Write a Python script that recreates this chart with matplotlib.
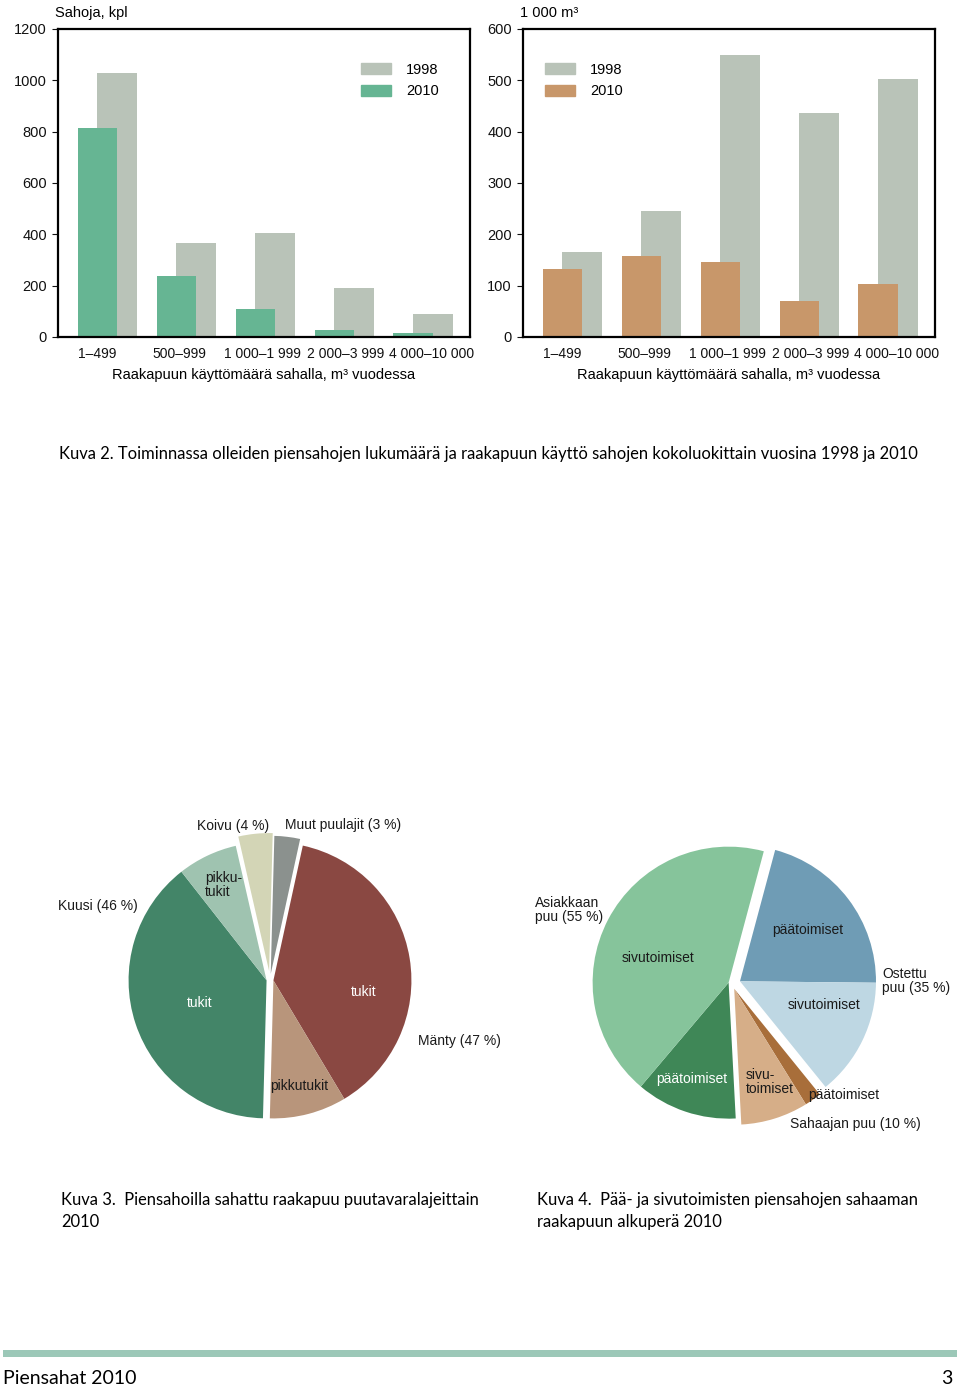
import numpy as np
import matplotlib
matplotlib.use('Agg')
import matplotlib.pyplot as plt
from matplotlib.patches import Patch, Rectangle

# groteski kuvioihin, humanistinen groteski kuvateksteihin
SANS = 'Liberation Sans'
CAP = 'Lato'
plt.rcParams['font.family'] = [SANS, 'DejaVu Sans']

# %% data
size_classes = ['1–499', '500–999', '1 000–1 999', '2 000–3 999', '4 000–10 000']
sahoja_1998 = [1030, 368, 407, 191, 91]
sahoja_2010 = [815, 236, 110, 28, 14]
kaytto_1998 = [165, 245, 549, 436, 502]
kaytto_2010 = [132, 157, 146, 71, 103]

# puutavaralajit, myötäpäivään ylhäältä
pie1_labels = ['Muut', 'Mänty tukit', 'Mänty pikkutukit', 'Kuusi tukit', 'Kuusi pikkutukit', 'Koivu']
pie1_values = [3, 38, 9, 39, 7, 4]
pie1_groups = [[0], [1, 2], [3, 4], [5]]

# raakapuun alkuperä, myötäpäivään ylhäältä
pie2_labels = ['Ostettu päätoimiset', 'Ostettu sivutoimiset', 'Sahaajan päätoimiset',
               'Sahaajan sivutoimiset', 'Asiakkaan päätoimiset', 'Asiakkaan sivutoimiset']
pie2_values = [21, 14, 2, 8, 12, 43]
pie2_groups = [[0, 1], [2, 3], [4, 5]]

c98 = '#b9c3b8'
c10_green = '#66b593'
c10_orange = '#c8976a'
pie1_colors = ['#8b918e', '#8a4842', '#b8957b', '#438568', '#9fc3b0', '#d3d5b6']
pie2_colors = ['#6f9cb5', '#bed7e3', '#a86e3a', '#d6ae88', '#3f8757', '#86c49b']

W, H = 960, 1387
fig = plt.figure(figsize=(W / 100, H / 100), dpi=100)


def fx(x):
    return x / W


def fy(y):
    return 1 - y / H


# nimiöiden paikat kuten alkuperäisessä (hieman levenevä väli)
tick_pos = [0, 1.04, 2.09, 3.14, 4.23]


def bar_chart(left, vals98, vals10, col10, ymax, step, ylabel, leg_x):
    ax = fig.add_axes([fx(left), fy(337), 412 / W, 308 / H])
    x = np.arange(len(size_classes))
    ax.bar(x + 0.25, vals98, width=0.5, color=c98)
    ax.bar(x, vals10, width=0.5, color=col10)
    ax.set_xlim(-0.5, 4.72)
    ax.set_ylim(0, ymax)
    ax.set_yticks(range(0, ymax + 1, step))
    ax.set_xticks(tick_pos)
    ax.set_xticklabels(size_classes)
    ax.tick_params(axis='x', length=0, pad=7, labelsize=10, colors='#111111')
    ax.tick_params(axis='y', length=4, width=0.8, pad=4, labelsize=10.5, colors='#111111')
    for s in ax.spines.values():
        s.set_linewidth(1.6)
    ax.set_xlabel('Raakapuun käyttömäärä sahalla, m³ vuodessa', fontsize=10.5, labelpad=5)
    fig.text(fx(left - 3), fy(13), ylabel, fontsize=10.5, va='center', ha='left')
    handles = [Patch(color=c98), Patch(color=col10)]
    ax.legend(handles, ['1998', '2010'], loc='upper left', bbox_to_anchor=(leg_x, 0.89),
              frameon=False, fontsize=10.5, borderaxespad=0, borderpad=0,
              handlelength=2.1, handleheight=0.8, handletextpad=1.0, labelspacing=0.5)
    return ax


bar_chart(58, sahoja_1998, sahoja_2010, c10_green, 1200, 200, 'Sahoja, kpl', 0.735)
bar_chart(523, kaytto_1998, kaytto_2010, c10_orange, 600, 100, '1 000 m³', 0.053)

fig.text(fx(59), fy(454), 'Kuva 2. Toiminnassa olleiden piensahojen lukumäärä ja raakapuun käyttö '
         'sahojen kokoluokittain vuosina 1998 ja 2010', family=CAP, fontsize=11.9, va='center')


def pie_chart(cx, cy, R, values, colors, groups, offsets, start):
    s = 1.35
    ax = fig.add_axes([fx(cx - s * R), fy(cy + s * R), 2 * s * R / W, 2 * s * R / H])
    wedges, _ = ax.pie(values, colors=colors, startangle=start, counterclock=False,
                       wedgeprops=dict(linewidth=0))
    for g, off in zip(groups, offsets):
        t1 = min(wedges[i].theta1 for i in g)
        t2 = max(wedges[i].theta2 for i in g)
        mid = np.deg2rad((t1 + t2) / 2)
        for i in g:
            wedges[i].set_center((off * np.cos(mid), off * np.sin(mid)))
    ax.set_xlim(-s, s)
    ax.set_ylim(-s, s)
    ax.axis('off')
    return ax


pie_chart(270, 980, 138, pie1_values, pie1_colors, pie1_groups, [0.045, 0.025, 0.025, 0.065], 88.5)
pie_chart(732, 983, 136, pie2_values, pie2_colors, pie2_groups, [0.06, 0.045, 0.025], 75)

dark = '#1a1a1a'
lbl = dict(fontsize=10, va='center')
fig.text(fx(233), fy(826), 'Koivu (4 %)', ha='center', color=dark, **lbl)
fig.text(fx(285), fy(825), 'Muut puulajit (3 %)', ha='left', color=dark, **lbl)
fig.text(fx(58), fy(906), 'Kuusi (46 %)', ha='left', color=dark, **lbl)
fig.text(fx(205), fy(885), 'pikku-\ntukit', ha='left', color=dark, linespacing=0.95, **lbl)
fig.text(fx(200), fy(1003), 'tukit', ha='center', color='white', **lbl)
fig.text(fx(364), fy(992), 'tukit', ha='center', color='white', **lbl)
fig.text(fx(299), fy(1086), 'pikkutukit', ha='center', color=dark, **lbl)
fig.text(fx(418), fy(1041), 'Mänty (47 %)', ha='left', color=dark, **lbl)

fig.text(fx(535), fy(910), 'Asiakkaan\npuu (55 %)', ha='left', color=dark, linespacing=1.05, **lbl)
fig.text(fx(658), fy(958), 'sivutoimiset', ha='center', color=dark, **lbl)
fig.text(fx(808), fy(930), 'päätoimiset', ha='center', color=dark, **lbl)
fig.text(fx(882), fy(981), 'Ostettu\npuu (35 %)', ha='left', color=dark, linespacing=1.05, **lbl)
fig.text(fx(824), fy(1005), 'sivutoimiset', ha='center', color=dark, **lbl)
fig.text(fx(692), fy(1079), 'päätoimiset', ha='center', color='white', **lbl)
fig.text(fx(746), fy(1082), 'sivu-\ntoimiset', ha='left', color=dark, linespacing=1.0, **lbl)
fig.text(fx(844), fy(1095), 'päätoimiset', ha='center', color=dark, **lbl)
fig.text(fx(855), fy(1124), 'Sahaajan puu (10 %)', ha='center', color=dark, **lbl)

cap = dict(family=CAP, fontsize=11.9, va='center', linespacing=1.4)
fig.text(fx(61), fy(1211), 'Kuva 3.  Piensahoilla sahattu raakapuu puutavaralajeittain\n2010',
         ha='left', **cap)
fig.text(fx(537), fy(1211), 'Kuva 4.  Pää- ja sivutoimisten piensahojen sahaaman\nraakapuun alkuperä 2010',
         ha='left', **cap)

# alapalkki
fig.add_artist(Rectangle((fx(3), fy(1357)), 954 / W, 7 / H, transform=fig.transFigure,
                         color='#9cc8b8', lw=0))
fig.text(fx(3), fy(1378), 'Piensahat 2010', family=CAP, fontsize=14, va='center', ha='left')
fig.text(fx(953), fy(1378), '3', family=CAP, fontsize=14, va='center', ha='right')

fig.savefig('out.png', dpi=100)
